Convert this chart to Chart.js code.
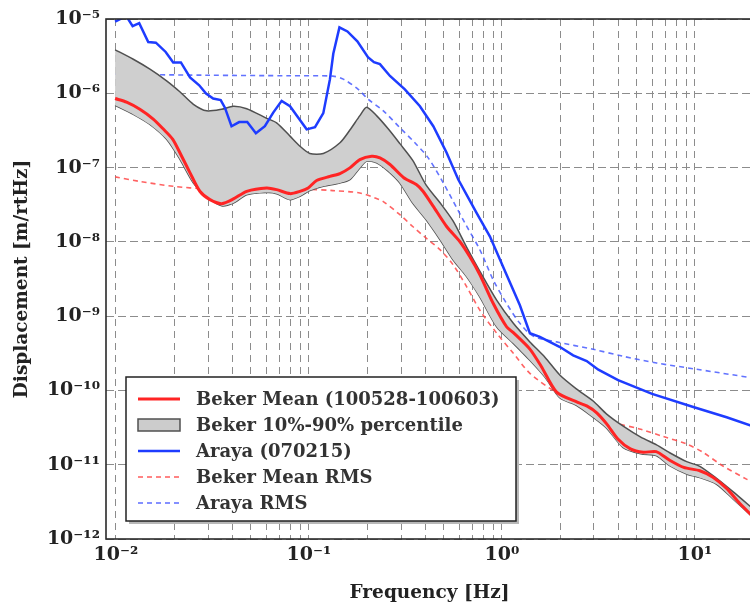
<!DOCTYPE html>
<html>
<head>
<meta charset="utf-8">
<script src="https://cdn.jsdelivr.net/npm/chart.js@4.4.1/dist/chart.umd.min.js"></script>
<style>
  html, body { margin: 0; padding: 0; background: #fff; overflow: hidden; }
  #wrap { width: 750px; height: 609px; overflow: hidden; }
</style>
</head>
<body>
<div id="wrap"><canvas id="psd" width="760" height="609"></canvas></div>
<script>
/* Displacement spectra: Beker (mean + 10/90 percentile) vs Araya */

// Araya (070215) measured spectrum
const arayaFreq = [0.0099, 0.0113, 0.0122, 0.0132, 0.0147, 0.0161, 0.0181, 0.0198, 0.0217, 0.0242,
  0.027, 0.0293, 0.0319, 0.0349, 0.0367, 0.0397, 0.0435, 0.0479, 0.0531, 0.0591,
  0.0653, 0.0722, 0.0798, 0.0881, 0.0973, 0.1075, 0.1187, 0.1285, 0.1337, 0.1439,
  0.1583, 0.1782, 0.2022, 0.2172, 0.2333, 0.263, 0.314, 0.376, 0.441, 0.517,
  0.594, 0.74, 0.867, 1.057, 1.239, 1.396, 1.573, 2.0, 2.34, 2.75,
  3.16, 4.0, 6.0, 9.9, 14.6, 20];
const arayaVal = [9.2e-6, 1.1e-5, 8.0e-6, 8.8e-6, 4.9e-6, 4.8e-6, 3.6e-6, 2.6e-6, 2.6e-6, 1.63e-6,
  1.28e-6, 9.9e-7, 8.5e-7, 8.1e-7, 6.4e-7, 3.6e-7, 4.1e-7, 4.1e-7, 2.9e-7, 3.6e-7,
  5.5e-7, 7.9e-7, 6.7e-7, 4.7e-7, 3.27e-7, 3.5e-7, 5.4e-7, 1.55e-6, 3.4e-6, 7.7e-6,
  6.8e-6, 5.0e-6, 3.06e-6, 2.62e-6, 2.47e-6, 1.71e-6, 1.13e-6, 6.7e-7, 3.6e-7, 1.58e-7,
  6.9e-8, 2.44e-8, 1.18e-8, 3.6e-9, 1.4e-9, 5.9e-10, 5.25e-10, 3.84e-10, 2.97e-10, 2.49e-10,
  1.9e-10, 1.38e-10, 9.0e-11, 5.94e-11, 4.35e-11, 3.3e-11];

// Araya RMS
const arayaRmsFreq = [0.0099, 0.03, 0.08, 0.133, 0.1507, 0.18, 0.203, 0.243, 0.296, 0.354,
  0.415, 0.497, 0.643, 0.769, 0.902, 1.057, 1.239, 1.452, 1.92, 2.97,
  4.25, 6.33, 9.8, 20];
const arayaRmsVal = [1.8e-6, 1.75e-6, 1.72e-6, 1.7e-6, 1.55e-6, 1.13e-6, 8.3e-7, 5.8e-7, 3.44e-7, 2.16e-7,
  1.35e-7, 6.2e-8, 1.79e-8, 7.8e-9, 3.06e-9, 1.48e-9, 8.0e-10, 5.4e-10, 4.5e-10, 3.58e-10,
  2.88e-10, 2.34e-10, 1.96e-10, 1.47e-10];

// Beker mean (100528-100603)
const bekerFreq = [0.0099, 0.01135, 0.0133, 0.0156, 0.0176, 0.0197, 0.0219, 0.0242, 0.0272, 0.0307,
  0.0353, 0.0406, 0.0476, 0.0604, 0.068, 0.0798, 0.0898, 0.0991, 0.1096, 0.1285,
  0.1448, 0.163, 0.1836, 0.2113, 0.2333, 0.263, 0.31, 0.36, 0.39, 0.441,
  0.517, 0.605, 0.682, 0.769, 0.902, 1.057, 1.146, 1.396, 1.6, 1.92,
  2.47, 2.75, 3.1, 3.49, 4.0, 4.63, 5.4, 6.3, 7.4, 8.75,
  10.6, 12.4, 14.6, 17.1, 20];
const bekerVal = [8.5e-7, 7.6e-7, 6.1e-7, 4.5e-7, 3.3e-7, 2.4e-7, 1.42e-7, 8.5e-8, 4.8e-8, 3.7e-8,
  3.27e-8, 3.78e-8, 4.79e-8, 5.32e-8, 5.05e-8, 4.46e-8, 4.79e-8, 5.32e-8, 6.7e-8, 7.6e-8,
  8.3e-8, 9.9e-8, 1.28e-7, 1.42e-7, 1.35e-7, 1.1e-7, 7.3e-8, 5.9e-8, 4.8e-8, 3.0e-8,
  1.61e-8, 1.01e-8, 6.3e-9, 3.6e-9, 1.48e-9, 7.2e-10, 6.0e-10, 3.6e-10, 2.1e-10, 9.5e-11,
  6.9e-11, 6.2e-11, 5.0e-11, 3.55e-11, 2.2e-11, 1.63e-11, 1.47e-11, 1.5e-11, 1.15e-11, 9.2e-12,
  8.3e-12, 6.8e-12, 4.8e-12, 3.0e-12, 2.0e-12];

// Beker 10%-90% percentile band
const bandFreq = [0.0099, 0.0123, 0.015, 0.0183, 0.0215, 0.0252, 0.0295, 0.0353, 0.0406, 0.0476,
  0.0604, 0.068, 0.0798, 0.0898, 0.101, 0.1187, 0.1448, 0.163, 0.1836, 0.199,
  0.224, 0.258, 0.296, 0.345, 0.405, 0.479, 0.559, 0.656, 0.769, 0.939,
  1.146, 1.396, 1.67, 2.0, 2.43, 2.97, 3.49, 4.25, 5.24, 6.33,
  7.4, 9.06, 10.6, 12.9, 15.8, 20];
const band90 = [3.85e-6, 2.87e-6, 2.11e-6, 1.47e-6, 1.04e-6, 7.1e-7, 5.8e-7, 6.1e-7, 6.7e-7, 6.2e-7,
  4.6e-7, 4.0e-7, 2.65e-7, 1.94e-7, 1.55e-7, 1.55e-7, 2.16e-7, 3.2e-7, 5.0e-7, 6.5e-7,
  5.0e-7, 3.3e-7, 2.1e-7, 1.25e-7, 5.8e-8, 3.33e-8, 1.9e-8, 8.5e-9, 4.0e-9, 1.64e-9,
  8.0e-10, 4.5e-10, 2.8e-10, 1.6e-10, 1.05e-10, 7.2e-11, 4.8e-11, 3.3e-11, 2.35e-11, 1.85e-11,
  1.45e-11, 1.1e-11, 9.5e-12, 6.6e-12, 4.3e-12, 2.55e-12];
const band10 = [6.9e-7, 5.2e-7, 3.8e-7, 2.4e-7, 1.28e-7, 6.2e-8, 4.1e-8, 3.06e-8, 3.33e-8, 4.3e-8,
  4.6e-8, 4.45e-8, 3.7e-8, 4.1e-8, 4.9e-8, 5.6e-8, 6.2e-8, 6.9e-8, 9.9e-8, 1.22e-7,
  1.16e-7, 8.9e-8, 6.2e-8, 3.33e-8, 1.98e-8, 1.06e-8, 5.7e-9, 3.4e-9, 1.8e-9, 7.2e-10,
  4.3e-10, 2.54e-10, 1.51e-10, 7.9e-11, 6.3e-11, 4.35e-11, 3.1e-11, 1.7e-11, 1.4e-11, 1.32e-11,
  9.7e-12, 7.5e-12, 6.7e-12, 5.5e-12, 3.44e-12, 1.95e-12];

// Beker mean RMS
const bekerRmsFreq = [0.0099, 0.0133, 0.0198, 0.0295, 0.0439, 0.068, 0.0973, 0.133, 0.1836, 0.22,
  0.242, 0.296, 0.345, 0.405, 0.479, 0.559, 0.656, 0.769, 0.939, 1.146,
  1.396, 1.84, 2.47, 3.2, 3.95, 5.24, 6.85, 9.06, 11.0, 13.9,
  18.5, 20];
const bekerRmsVal = [7.5e-8, 6.5e-8, 5.6e-8, 5.15e-8, 5.1e-8, 5.05e-8, 5.1e-8, 4.9e-8, 4.55e-8, 3.9e-8,
  3.5e-8, 2.32e-8, 1.61e-8, 1.12e-8, 7.8e-9, 4.9e-9, 2.5e-9, 1.2e-9, 5.9e-10, 3.16e-10,
  1.7e-10, 1.0e-10, 6.6e-11, 4.35e-11, 3.6e-11, 3.0e-11, 2.4e-11, 1.9e-11, 1.47e-11, 9.7e-12,
  6.4e-12, 5.8e-12];

const xDecades = [-2, -1, 0, 1];
const yDecades = [-12, -11, -10, -9, -8, -7, -6, -5];
const legendLabels = ['Beker Mean (100528-100603)', 'Beker 10%-90% percentile', 'Araya (070215)', 'Beker Mean RMS', 'Araya RMS'];

const SERIF = "'DejaVu Serif', 'Liberation Serif', serif";
const RED = '#ff2424';
const BLUE = '#1e3cff';
const GRAY_EDGE = '#505050';

function pts(xs, ys) {
  return xs.map((x, i) => ({ x: x, y: ys[i] }));
}

function powLabel(v) {
  const e = Math.round(Math.log10(v));
  if (Math.abs(v / Math.pow(10, e) - 1) > 1e-6) return '';
  const sup = { '-': '\u207B', '0': '\u2070', '1': '\u00B9', '2': '\u00B2', '3': '\u00B3', '4': '\u2074',
    '5': '\u2075', '6': '\u2076', '7': '\u2077', '8': '\u2078', '9': '\u2079' };
  return '10' + String(e).split('').map(c => sup[c]).join('');
}

// frame + legend drawn on top of the plot
const framePlugin = {
  id: 'frameAndLegend',
  afterDraw(chart) {
    const { ctx, chartArea: a } = chart;
    ctx.save();
    ctx.strokeStyle = '#2a2a2a';
    ctx.lineWidth = 1.6;
    ctx.strokeRect(a.left, a.top, a.right - a.left, a.bottom - a.top);

    // legend box
    const bx = 126, by = 377, bw = 390, bh = 144;
    ctx.fillStyle = '#b8b8b8';
    ctx.fillRect(bx + 3, by + 3, bw, bh);
    ctx.fillStyle = '#ffffff';
    ctx.fillRect(bx, by, bw, bh);
    ctx.strokeStyle = '#222';
    ctx.lineWidth = 1.5;
    ctx.strokeRect(bx, by, bw, bh);

    const styles = [
      { color: RED, width: 3, dash: [] },
      { band: true },
      { color: BLUE, width: 2.5, dash: [] },
      { color: '#ff5c5c', width: 1.5, dash: [5, 4] },
      { color: '#5c6cff', width: 1.5, dash: [5, 4] }
    ];
    ctx.font = 'bold 18px ' + SERIF;
    ctx.textBaseline = 'middle';
    legendLabels.forEach((txt, i) => {
      const y = 399 + i * 26;
      const s = styles[i];
      if (s.band) {
        ctx.fillStyle = '#cccccc';
        ctx.fillRect(138, y - 6, 42, 12);
        ctx.strokeStyle = GRAY_EDGE;
        ctx.lineWidth = 1.5;
        ctx.setLineDash([]);
        ctx.strokeRect(138, y - 6, 42, 12);
      } else {
        ctx.strokeStyle = s.color;
        ctx.lineWidth = s.width;
        ctx.setLineDash(s.dash);
        ctx.beginPath();
        ctx.moveTo(138, y);
        ctx.lineTo(180, y);
        ctx.stroke();
        ctx.setLineDash([]);
      }
      ctx.fillStyle = '#333';
      ctx.fillText(txt, 196, y + 1);
    });
    ctx.restore();
  }
};

const ctx = document.getElementById('psd').getContext('2d');
new Chart(ctx, {
  type: 'line',
  data: {
    datasets: [
      { label: legendLabels[0], data: pts(bekerFreq, bekerVal), borderColor: RED, borderWidth: 3, tension: 0.25, fill: false },
      { label: legendLabels[2], data: pts(arayaFreq, arayaVal), borderColor: BLUE, borderWidth: 2.5, tension: 0, fill: false },
      { label: legendLabels[1], data: pts(bandFreq, band90), borderColor: GRAY_EDGE, borderWidth: 1.5, backgroundColor: '#cfcfcf', tension: 0.25, fill: '+1' },
      { label: '10%', data: pts(bandFreq, band10), borderColor: GRAY_EDGE, borderWidth: 1.5, tension: 0.25, fill: false },
      { label: legendLabels[3], data: pts(bekerRmsFreq, bekerRmsVal), borderColor: 'rgba(255,70,70,0.85)', borderWidth: 1.6, borderDash: [5, 4], tension: 0.3, fill: false },
      { label: legendLabels[4], data: pts(arayaRmsFreq, arayaRmsVal), borderColor: 'rgba(70,90,255,0.85)', borderWidth: 1.6, borderDash: [5, 4], tension: 0.3, fill: false }
    ]
  },
  options: {
    responsive: false,
    animation: false,
    layout: { padding: { left: 0, top: 19, right: 7, bottom: 0 } },
    elements: { point: { radius: 0 } },
    plugins: { legend: { display: false }, tooltip: { enabled: false } },
    scales: {
      x: {
        type: 'logarithmic',
        min: 0.00888,
        max: 20,
        afterBuildTicks: (scale) => {
          const t = [];
          xDecades.forEach(e => {
            for (let m = 1; m <= 9; m++) t.push({ value: m * Math.pow(10, e) });
          });
          t.push({ value: 20 });
          scale.ticks = t;
        },
        afterFit: (scale) => { scale.height = 70; },
        grid: { color: '#8c8c8c', lineWidth: 1, drawTicks: false },
        border: { display: false, dash: [7, 5] },
        ticks: {
          autoSkip: false, maxRotation: 0, padding: 5, color: '#222',
          font: { family: SERIF, size: 19, weight: 'bold' },
          callback: (v) => powLabel(v)
        },
        title: { display: true, text: 'Frequency [Hz]', color: '#222', font: { family: SERIF, size: 18.5, weight: 'bold' }, padding: { top: 0, bottom: 5 } }
      },
      y: {
        type: 'logarithmic',
        min: 1e-12,
        max: 1e-5,
        afterBuildTicks: (scale) => {
          scale.ticks = yDecades.map(e => ({ value: Math.pow(10, e) }));
        },
        afterFit: (scale) => { scale.width = 106; },
        grid: { color: '#8c8c8c', lineWidth: 1, drawTicks: false },
        border: { display: false, dash: [8, 4] },
        ticks: {
          autoSkip: false, padding: 6, color: '#222',
          font: { family: SERIF, size: 19, weight: 'bold' },
          callback: (v) => powLabel(v)
        },
        title: { display: true, text: 'Displacement [m/rtHz]', color: '#222', font: { family: SERIF, size: 18.5, weight: 'bold' }, padding: { top: 11, bottom: 0 } }
      }
    }
  },
  plugins: [framePlugin]
});
</script>
</body>
</html>
